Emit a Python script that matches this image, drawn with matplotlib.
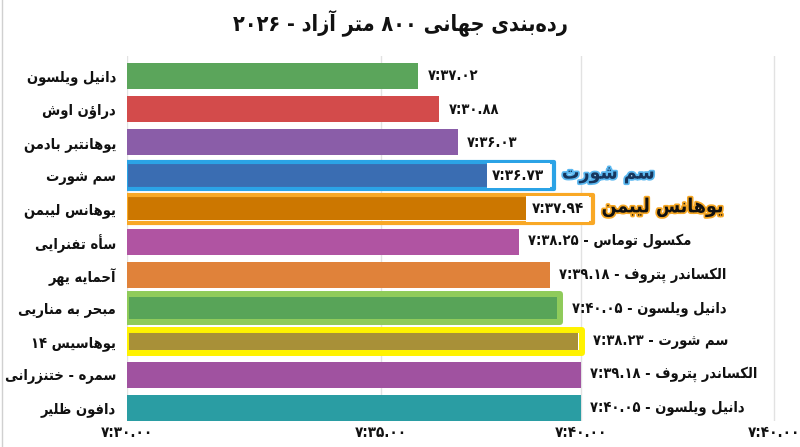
import re
import matplotlib
matplotlib.use("Agg")
import matplotlib.pyplot as plt
import matplotlib.patheffects as pe

# ---------------- data ----------------
names = ["دانیل ویلسون", "دراؤن اوش", "یوهانتبر بادمن", "سم شورت", "یوهانس لیبمن",
         "سأه تفنرایی", "آحمایه یهر", "مبحر به مناریی", "یوهاسیس ۱۴",
         "سمره - ختنزرانی", "دافون ظلیر"]
# bar lengths in seconds after 7:30 (as drawn)
bar_values = [5.73, 6.14, 6.50, 8.29, 9.07, 7.70, 8.31, 8.46, 8.88, 8.92, 8.92]
value_labels = ["۷:۳۷.۰۲", "۷:۳۰.۸۸", "۷:۳۶.۰۳", "۷:۳۶.۷۳", "۷:۳۷.۹۴", "۷:۳۸.۲۵",
                "۷:۳۹.۱۸", "۷:۴۰.۰۵", "۷:۳۸.۲۳", "۷:۳۹.۱۸", "۷:۴۰.۰۵"]
label_names = ["", "", "", "", "", "مکسول توماس", "الکساندر پتروف", "دانیل ویلسون",
               "سم شورت", "الکساندر پتروف", "دانیل ویلسون"]
callouts = {3: "سم شورت", 4: "یوهانس لیبمن"}
tick_positions = [0, 5, 8.92, 12.72]
tick_labels = ["۷:۳۰.۰۰", "۷:۳۵.۰۰", "۷:۴۰.۰۰", "۷:۴۰.۰۰"]
title = "رده\u200cبندی جهانی ۸۰۰ متر آزاد - ۲۰۲۶"

colors = ["#5BA55B", "#D34B4B", "#8A5DA8", "#3A6DB2", "#CC7700", "#B054A2",
          "#E0823A", "#58A458", "#A89038", "#A052A0", "#2A9DA3"]
outlines = {3: ("#2BA3E6", 3.0), 4: ("#F9A825", 3.0), 7: ("#8FCB5A", 4.3), 8: ("#FFF200", 4.3)}

# ---------------- Persian shaping ----------------
F = {
    'ء': (0xFE80, None, None, None), 'آ': (0xFE81, 0xFE82, None, None),
    'أ': (0xFE83, 0xFE84, None, None), 'ؤ': (0xFE85, 0xFE86, None, None),
    'إ': (0xFE87, 0xFE88, None, None), 'ئ': (0xFE89, 0xFE8A, 0xFE8B, 0xFE8C),
    'ا': (0xFE8D, 0xFE8E, None, None), 'ب': (0xFE8F, 0xFE90, 0xFE91, 0xFE92),
    'ة': (0xFE93, 0xFE94, None, None), 'ت': (0xFE95, 0xFE96, 0xFE97, 0xFE98),
    'ث': (0xFE99, 0xFE9A, 0xFE9B, 0xFE9C), 'ج': (0xFE9D, 0xFE9E, 0xFE9F, 0xFEA0),
    'ح': (0xFEA1, 0xFEA2, 0xFEA3, 0xFEA4), 'خ': (0xFEA5, 0xFEA6, 0xFEA7, 0xFEA8),
    'د': (0xFEA9, 0xFEAA, None, None), 'ذ': (0xFEAB, 0xFEAC, None, None),
    'ر': (0xFEAD, 0xFEAE, None, None), 'ز': (0xFEAF, 0xFEB0, None, None),
    'س': (0xFEB1, 0xFEB2, 0xFEB3, 0xFEB4), 'ش': (0xFEB5, 0xFEB6, 0xFEB7, 0xFEB8),
    'ص': (0xFEB9, 0xFEBA, 0xFEBB, 0xFEBC), 'ض': (0xFEBD, 0xFEBE, 0xFEBF, 0xFEC0),
    'ط': (0xFEC1, 0xFEC2, 0xFEC3, 0xFEC4), 'ظ': (0xFEC5, 0xFEC6, 0xFEC7, 0xFEC8),
    'ع': (0xFEC9, 0xFECA, 0xFECB, 0xFECC), 'غ': (0xFECD, 0xFECE, 0xFECF, 0xFED0),
    'ف': (0xFED1, 0xFED2, 0xFED3, 0xFED4), 'ق': (0xFED5, 0xFED6, 0xFED7, 0xFED8),
    'ك': (0xFED9, 0xFEDA, 0xFEDB, 0xFEDC), 'ل': (0xFEDD, 0xFEDE, 0xFEDF, 0xFEE0),
    'م': (0xFEE1, 0xFEE2, 0xFEE3, 0xFEE4), 'ن': (0xFEE5, 0xFEE6, 0xFEE7, 0xFEE8),
    'ه': (0xFEE9, 0xFEEA, 0xFEEB, 0xFEEC), 'و': (0xFEED, 0xFEEE, None, None),
    'ى': (0xFEEF, 0xFEF0, None, None), 'ي': (0xFEF1, 0xFEF2, 0xFEF3, 0xFEF4),
    'پ': (0xFB56, 0xFB57, 0xFB58, 0xFB59), 'چ': (0xFB7A, 0xFB7B, 0xFB7C, 0xFB7D),
    'ژ': (0xFB8A, 0xFB8B, None, None), 'ک': (0xFB8E, 0xFB8F, 0xFB90, 0xFB91),
    'گ': (0xFB92, 0xFB93, 0xFB94, 0xFB95), 'ی': (0xFBFC, 0xFBFD, 0xFBFE, 0xFBFF),
}
LAMALEF = {'ا': (0xFEFB, 0xFEFC), 'آ': (0xFEF5, 0xFEF6), 'أ': (0xFEF7, 0xFEF8), 'إ': (0xFEF9, 0xFEFA)}


def dual(c):
    return c in F and F[c][2] is not None


def shape(s):
    out = []
    i = 0
    n = len(s)
    while i < n:
        c = s[i]
        if c not in F:
            out.append(c)
            i += 1
            continue
        prev = s[i - 1] if i > 0 else ''
        nxt = s[i + 1] if i + 1 < n else ''
        pj = dual(prev)
        if c == 'ل' and nxt in LAMALEF:
            out.append(chr(LAMALEF[nxt][1 if pj else 0]))
            i += 2
            continue
        nj = dual(c) and nxt in F and nxt != 'ء'
        iso, fin, ini, med = F[c]
        if pj and nj:
            g = med
        elif pj:
            g = fin if fin else iso
        elif nj:
            g = ini
        else:
            g = iso
        out.append(chr(g))
        i += 1
    return ''.join(out).replace('\u200c', '')


def rtl(s):
    sh = shape(s)
    toks = re.findall(r'[0-9\u06F0-\u06F9][0-9\u06F0-\u06F9:.]*|.', sh)
    return ''.join(reversed(toks))


# ---------------- plot ----------------
plt.rcParams['font.family'] = ['DejaVu Sans']
plt.rcParams['font.stretch'] = 'condensed'
fig = plt.figure(figsize=(8.0, 4.47), dpi=100)
ax = fig.add_axes([0.159, 0.058, 0.829, 0.8166])
ypos = list(range(len(names)))

heights = [0.78] * len(names)
heights[3] = 0.70
heights[4] = 0.70
heights[7] = 0.66
heights[8] = 0.54

for i in ypos:
    ax.barh(i, bar_values[i], height=heights[i], color=colors[i], zorder=2)
    if i in outlines:
        ec, lw = outlines[i]
        ext = 0.10 if i in (3, 4) else 0.06
        oh = {3: 0.84, 4: 0.84, 7: 0.84, 8: 0.70}[i]
        ax.barh(i, bar_values[i] + ext + 0.03, left=-0.03, height=oh, fill=False,
                edgecolor=ec, linewidth=lw, zorder=3, joinstyle='round')

# value labels
for i in ypos:
    end = bar_values[i] + (0.10 if i in outlines else 0.0)
    if i in callouts:
        ax.annotate(value_labels[i], (bar_values[i], i), xytext=(-3, 0),
                    textcoords='offset points', ha='right', va='center',
                    fontsize=11, fontweight='bold', color='#111111', zorder=5,
                    bbox=dict(boxstyle='square,pad=0.35', fc='white', ec='none'))
        col = '#17365D' if i == 3 else '#111111'
        glow = '#5BB8F0' if i == 3 else '#F5A623'
        ax.annotate(rtl(callouts[i]), (end, i), xytext=(6, 1),
                    textcoords='offset points', ha='left', va='center',
                    fontsize=14, fontweight='bold', color=col, zorder=5,
                    path_effects=[pe.withStroke(linewidth=2.5, foreground=glow)])
    else:
        txt = value_labels[i]
        if label_names[i]:
            txt = txt + " - " + rtl(label_names[i])
        ax.annotate(txt, (end, i), xytext=(7, 0), textcoords='offset points',
                    ha='left', va='center', fontsize=10.5, fontweight='bold',
                    color='#111111', zorder=5)

ax.set_yticks(ypos)
ax.set_yticklabels([rtl(n) for n in names], fontsize=10.5, fontweight='bold', color='#111111')
ax.set_xticks(tick_positions)
ax.set_xticklabels(tick_labels, fontsize=11, fontweight='bold', color='#111111')
ax.tick_params(axis='both', length=0)
ax.tick_params(axis='y', pad=8)
ax.tick_params(axis='x', pad=3)
ax.set_xlim(0, 13.05)
ax.set_ylim(len(names) - 0.6, -0.6)
ax.grid(axis='x', color='#E2E2E2', linewidth=1, zorder=0)
ax.set_axisbelow(True)
for s in ax.spines.values():
    s.set_visible(False)

fig.text(0.5, 0.95, rtl(title), ha='center', va='center', fontsize=15.5,
         fontweight='bold', color='#111111')
fig.add_artist(plt.Line2D([0.002, 0.002], [0, 1], color='#D0D0D0', linewidth=1))

fig.savefig("out.png", dpi=100, facecolor='white')
